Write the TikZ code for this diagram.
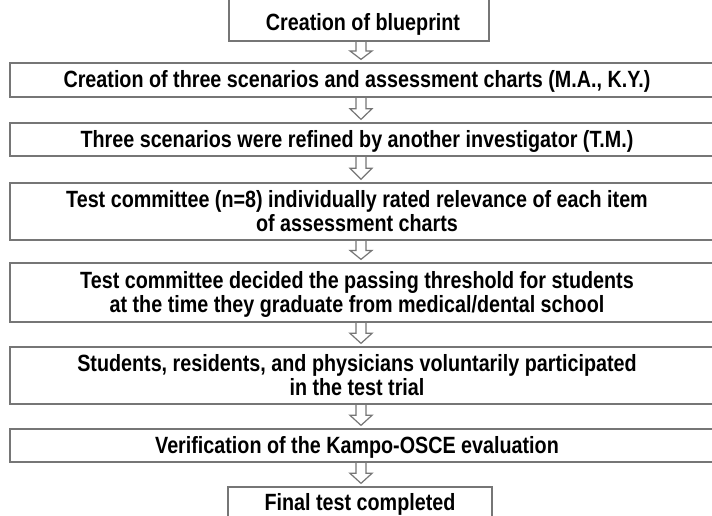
\documentclass[tikz,border=0pt]{standalone}
\usepackage{fontspec}
\setmainfont[FakeStretch=0.84]{Liberation Sans}
\usetikzlibrary{calc}
\definecolor{edge}{RGB}{118,118,118}
\newcommand\lefttext[1]{\hspace*{-26pt}\raisebox{-3pt}[\height][\depth]{\begin{tabular}{@{}c@{}}#1\end{tabular}}}
\newcommand\flowarrow[2]{%
  \draw[flow] let \p1=(#1.south), \p2=(#2.north) in
    (356pt,\y1) -- (356pt,{\y1+0.45*(\y2-\y1)}) -- (350pt,{\y1+0.45*(\y2-\y1)})
    -- (361pt,{\y2+3pt}) -- (372pt,{\y1+0.45*(\y2-\y1)}) -- (366pt,{\y1+0.45*(\y2-\y1)}) -- (366pt,\y1);}
\begin{document}
\begin{tikzpicture}[x=1pt,y=-1pt,
  every node/.style={font=\fontsize{23.5}{24.5}\selectfont\bfseries},
  boxstyle/.style={draw=edge, line width=1.3pt, rectangle, inner sep=0pt, text=black},
  wide/.style={boxstyle, minimum width=720pt},
  flow/.style={draw=edge, line width=1.2pt, line join=miter}]
\useasboundingbox (0,0) rectangle (712,515);
\clip (0,0) rectangle (712,515);
\fill[white] (0,0) rectangle (712,515);

\node[boxstyle, minimum width=260pt, minimum height=60pt, text height=40pt, text depth=2pt] (b1) at (359,11) {\hspace*{8pt}Creation of blueprint};
\node[wide, minimum height=34pt] (b2) at (370,80) {\lefttext{Creation of three scenarios and assessment charts (M.A., K.Y.)}};
\node[wide, minimum height=33pt] (b3) at (370,139.5) {\lefttext{Three scenarios were refined by another investigator (T.M.)}};
\node[wide, minimum height=57pt] (b4) at (370,211.5) {\lefttext{Test committee (n=8) individually rated relevance of each item\\of assessment charts}};
\node[wide, minimum height=59pt] (b5) at (370,292.5) {\lefttext{Test committee decided the passing threshold for students\\at the time they graduate from medical/dental school}};
\node[wide, minimum height=57pt] (b6) at (370,375.5) {\lefttext{Students, residents, and physicians voluntarily participated\\in the test trial}};
\node[wide, minimum height=33pt] (b7) at (370,445.5) {\lefttext{Verification of the Kampo-OSCE evaluation}};
\node[boxstyle, minimum width=264pt, minimum height=53pt, text height=12pt, text depth=19pt] (b8) at (360,513.5) {Final test completed};

\flowarrow{b1}{b2}
\flowarrow{b2}{b3}
\flowarrow{b3}{b4}
\flowarrow{b4}{b5}
\flowarrow{b5}{b6}
\flowarrow{b6}{b7}
\flowarrow{b7}{b8}
\end{tikzpicture}
\end{document}
